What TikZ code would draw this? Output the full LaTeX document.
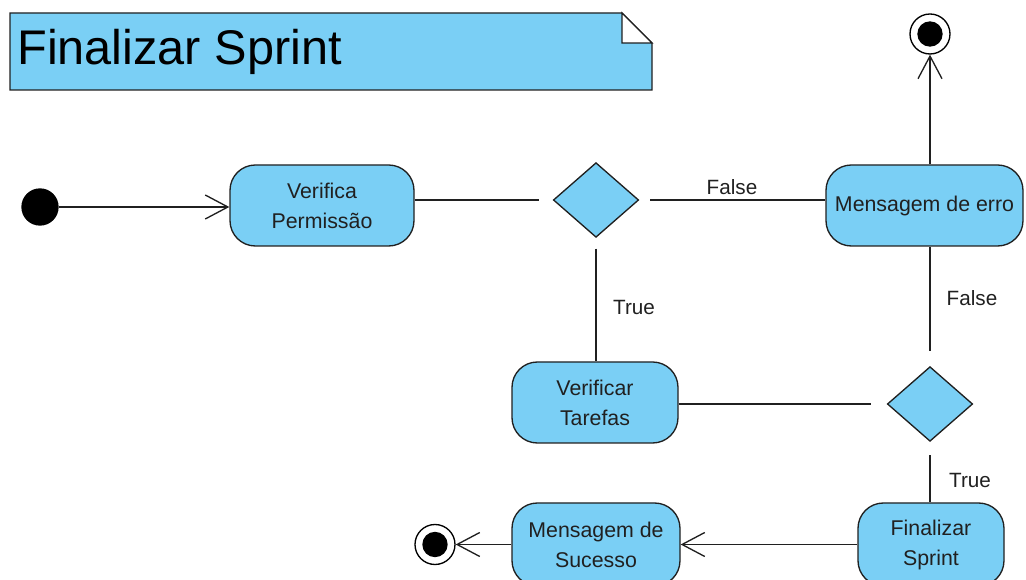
\documentclass[tikz,border=0pt]{standalone}
\usepackage{fontspec}
\setmainfont{Liberation Sans}
\usetikzlibrary{shapes.geometric,arrows.meta}
\definecolor{actfill}{HTML}{7ACFF5}
\definecolor{inkc}{HTML}{202020}
\tikzset{
  act/.style={draw=inkc,fill=actfill,line width=1pt,rounded corners=19pt,align=center,
    font=\fontsize{16pt}{22.5pt}\selectfont,text=inkc,inner sep=0pt},
  dec/.style={draw=inkc,fill=actfill,line width=1pt,diamond,inner sep=0pt,
    minimum width=64pt,minimum height=56pt},
  initnode/.style={circle,fill=black,minimum size=28pt,inner sep=0pt},
  finnode/.style={circle,draw=black,fill=white,line width=1pt,minimum size=30pt,inner sep=0pt,
    path picture={\fill[black] (path picture bounding box.center) circle (9.5pt);}},
  flow/.style={draw=inkc,line width=1pt},
  arr/.style={flow,-{Straight Barb[length=17pt,width=18pt,line width=1pt]}},
  guard/.style={font=\fontsize{15.5pt}{18pt}\selectfont,text=inkc,inner sep=0pt},
}
\begin{document}
\begin{tikzpicture}[x=0.75pt,y=-0.75pt]
\useasboundingbox (0,0) rectangle (1026,580);
\clip (0,0) rectangle (1026,580);
% title note
\draw[draw=inkc,fill=actfill,line width=1pt] (10,13) -- (622,13) -- (652,43) -- (652,90) -- (10,90) -- cycle;
\draw[draw=inkc,fill=white,line width=1pt] (622,13) -- (622,43) -- (652,43) -- cycle;
\node[anchor=west,font=\fontsize{36.5pt}{40pt}\selectfont,text=black,inner sep=0pt] (title) at (17,52) {Finalizar Sprint};
% nodes
\node[initnode] (start) at (40,207) {};
\node[act,minimum width=138pt,minimum height=60.75pt] (vp) at (322,205.5) {Verifica\\Permissão};
\node[dec] (d1) at (596,200) {};
\node[act,minimum width=147.75pt,minimum height=60.75pt] (me) at (924.5,205.5) {Mensagem de erro};
\node[finnode] (fin1) at (930,34) {};
\node[act,minimum width=124.5pt,minimum height=60.75pt] (vt) at (595,402.5) {Verificar\\Tarefas};
\node[dec] (d2) at (930,404) {};
\node[act,minimum width=109.5pt,minimum height=62.25pt] (fs) at (931,544.5) {Finalizar\\Sprint};
\node[act,minimum width=126pt,minimum height=62.25pt] (ms) at (596,544.5) {Mensagem de\\Sucesso};
\node[finnode] (fin2) at (435,544.5) {};
% connectors
\draw[arr] (start) -- (start -| vp.west);
\draw[flow,shorten >=10pt] (vp.east |- d1) -- (d1.west);
\draw[flow,shorten <=8pt] (d1.east) -- (d1 -| me.west);
\node[guard] (lf1) at (732,187) {False};
\draw[flow,shorten <=8pt] (d1.south) -- (d1.south |- vt.north);
\node[guard] (lt1) at (634,307) {True};
\draw[arr] (me.north -| fin1) -- (fin1.south);
\draw[flow,shorten >=11pt] (me.south -| d2) -- (d2.north);
\node[guard] (lf2) at (972,298) {False};
\draw[flow,shorten >=12pt] (vt.east |- d2) -- (d2.west);
\draw[flow,shorten <=10pt] (d2.south) -- (d2.south |- fs.north);
\node[guard] (lt2) at (970,480) {True};
\draw[arr] (fs.west) -- (ms.east);
\draw[arr] (ms.west) -- (fin2.east);
\end{tikzpicture}
\end{document}
